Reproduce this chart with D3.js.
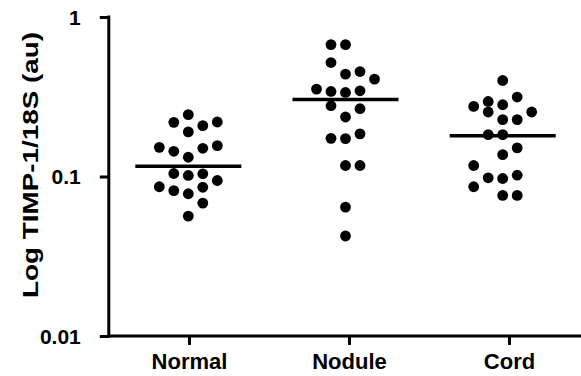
<!DOCTYPE html>
<html>
<head>
<meta charset="utf-8">
<script src="https://cdn.jsdelivr.net/npm/d3@7"></script>
<style>
  html, body { margin: 0; padding: 0; background: #fff; }
  svg { display: block; }
  text { font-family: "Liberation Sans", Arial, Helvetica, sans-serif; font-weight: bold; fill: #000; }
</style>
</head>
<body>
<svg id="chart" width="581" height="376"></svg>
<script>
// TIMP-1 expression (normalised to 18S), one value per sample
const categories = ["Normal", "Nodule", "Cord"];
const normal = [0.2441, 0.1903, 0.1320, 0.1015, 0.07796, 0.05648, 0.2185, 0.2083, 0.1439, 0.1503,
                0.1044, 0.1040, 0.08152, 0.2197, 0.1524, 0.1562, 0.08560, 0.08622, 0.09441, 0.06810];
const nodule = [0.6712, 0.4384, 0.3364, 0.2361, 0.1728, 0.1172, 0.06429, 0.04235, 0.6712, 0.4551,
                0.5181, 0.1172, 0.3413, 0.3447, 0.2778, 0.2661, 0.1735, 0.1849, 0.3533, 0.4080];
const cord   = [0.3998, 0.2818, 0.2271, 0.1830, 0.1372, 0.09716, 0.07608, 0.2955, 0.3149, 0.1830,
                0.2271, 0.09815, 0.07608, 0.2750, 0.1511, 0.1019, 0.2537, 0.1172, 0.08622, 0.2537];
const medians = [0.1160, 0.3042, 0.1804];
const yTicks = [0.01, 0.1, 1];
const yTitle = "Log TIMP-1/18S (au)";

const groups = [normal, nodule, cord];

const W = 581, H = 376;
const axisX = 108.8, axisBottom = 336, axisTop = 17;
const svg = d3.select("#chart");

// scales
const y = d3.scaleLog().domain([0.01, 1]).range([axisBottom, axisTop]);
const x = d3.scalePoint().domain(categories).range([189, 509]);          // category ticks
const xCol = d3.scalePoint().domain(categories).range([188.3, 502.7]);   // scatter column centres

const dotR = 5.4;
const laneStep = 14.5;   // horizontal spacing between side-by-side dots
const minGap = 13;       // vertical clearance needed to reuse a lane
const maxLane = 2;

// Spread points sideways into lanes so that close values do not overlap.
function swarm(values) {
  const placed = [];
  let balance = 0;
  return values.map(v => {
    const py = y(v);
    const room = lane => {
      let g = Infinity;
      for (const p of placed) if (p.lane === lane) g = Math.min(g, Math.abs(p.py - py));
      return g;
    };
    let lane = null;
    for (let k = 0; k <= maxLane && lane === null; k++) {
      const cands = k === 0 ? [0] : [-k, k];
      const free = cands.filter(l => room(l) >= minGap);
      if (free.length === 1) lane = free[0];
      else if (free.length === 2) lane = balance >= 0 ? -k : k;
    }
    if (lane === null) {
      let best = -Infinity;
      for (let l = -maxLane; l <= maxLane; l++) {
        const g = room(l);
        if (g > best) { best = g; lane = l; }
      }
    }
    placed.push({ py, lane });
    balance += lane;
    return { value: v, py, lane };
  });
}

// y axis
const yAxis = d3.axisLeft(y)
  .tickValues(yTicks)
  .tickFormat(d => String(d))
  .tickSize(9)
  .tickSizeOuter(0)
  .tickPadding(19);

const gy = svg.append("g")
  .attr("transform", `translate(${axisX},0)`)
  .call(yAxis);
gy.select(".domain").remove();
gy.selectAll(".tick line").attr("stroke", "#000").attr("stroke-width", 3);
gy.selectAll(".tick text").attr("font-size", 21).attr("dy", "0.35em");
gy.append("line")
  .attr("x1", 0).attr("x2", 0)
  .attr("y1", axisTop - 1.5).attr("y2", axisBottom + 1.5)
  .attr("stroke", "#000").attr("stroke-width", 3);

// x axis
const xAxis = d3.axisBottom(x)
  .tickSize(9)
  .tickSizeOuter(0)
  .tickPadding(8);

const gx = svg.append("g")
  .attr("transform", `translate(0,${axisBottom})`)
  .call(xAxis);
gx.select(".domain").remove();
gx.selectAll(".tick line").attr("stroke", "#000").attr("stroke-width", 3);
gx.selectAll(".tick text").attr("font-size", 22);
gx.append("line")
  .attr("x1", axisX - 1.5).attr("x2", W)
  .attr("y1", 0).attr("y2", 0)
  .attr("stroke", "#000").attr("stroke-width", 3);

// y axis title
svg.append("text")
  .attr("transform", "translate(38,165) rotate(-90)")
  .attr("text-anchor", "middle")
  .attr("font-size", 22.5)
  .attr("textLength", 266)
  .attr("lengthAdjust", "spacingAndGlyphs")
  .text(yTitle);

// dots
categories.forEach((cat, i) => {
  const pts = swarm(groups[i]);
  svg.append("g")
    .selectAll("circle")
    .data(pts)
    .join("circle")
    .attr("cx", d => xCol(cat) + d.lane * laneStep)
    .attr("cy", d => y(d.value))
    .attr("r", dotR)
    .attr("fill", "#000");
});

// median lines
svg.append("g")
  .selectAll("line")
  .data(categories)
  .join("line")
  .attr("x1", d => xCol(d) - 53)
  .attr("x2", d => xCol(d) + 53)
  .attr("y1", (d, i) => y(medians[i]))
  .attr("y2", (d, i) => y(medians[i]))
  .attr("stroke", "#000")
  .attr("stroke-width", 3.5);
</script>
</body>
</html>
